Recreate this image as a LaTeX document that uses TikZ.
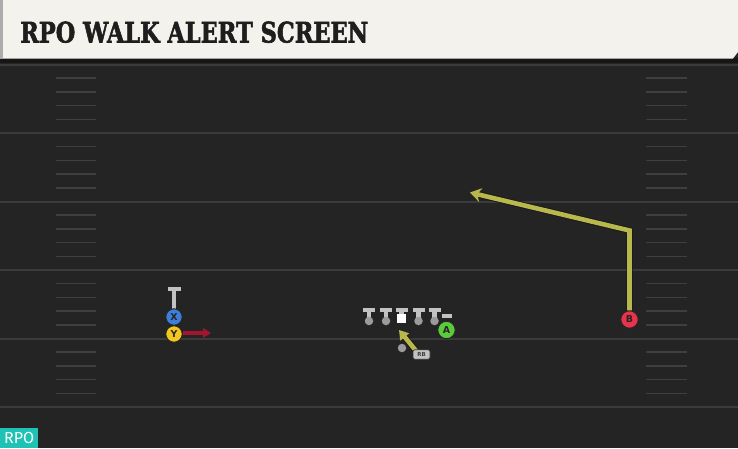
\documentclass[tikz,border=0pt]{standalone}
\usepackage{fontspec}
\usetikzlibrary{arrows.meta}
\newfontfamily\titlefont[FakeBold=2.2]{DejaVu Serif}
\newfontfamily\markfont{DejaVu Sans}
\newfontfamily\tagfont{Fira Sans}
\definecolor{fieldbg}{HTML}{242424}
\definecolor{fieldline}{HTML}{3B3B3B}
\definecolor{hashline}{HTML}{3F3F3F}
\definecolor{banner}{HTML}{F4F2EC}
\definecolor{bannerdark}{HTML}{161616}
\definecolor{titleink}{HTML}{1E1E1E}
\definecolor{tagteal}{HTML}{1FC3B6}
\definecolor{routeyel}{HTML}{B8B84D}
\definecolor{motionred}{HTML}{A3152E}
\definecolor{blockgray}{HTML}{C2C2C2}
\definecolor{xblue}{HTML}{3B7FDB}
\definecolor{yyellow}{HTML}{F3C71F}
\definecolor{agreen}{HTML}{5BCB3B}
\definecolor{bred}{HTML}{E8344A}

\begin{document}
\begin{tikzpicture}[x=1pt,y=-1pt,
  player/.style={circle,draw=black!85,line width=1pt,minimum size=16.5pt,inner sep=0pt,
    font=\markfont\bfseries\fontsize{9.5}{9.5}\selectfont,text=black!85},
  lineman/.style={circle,fill=blockgray!80!black,minimum size=8.5pt,inner sep=0pt},
  blockstem/.style={blockgray,line width=4.5pt},
  blockbar/.style={blockgray,line width=4pt},
  route/.style={routeyel,line width=4.6pt,line join=miter,
    preaction={draw=black!90,line width=6.4pt,arrows=-,shorten >=8pt}},
  motion/.style={motionred,line width=3.8pt},
  rbtag/.style={draw=black!80,fill=blockgray,rounded corners=2pt,line width=0.7pt,
    minimum width=17pt,minimum height=9.5pt,inner sep=0pt,
    font=\markfont\bfseries\fontsize{5.5}{5.5}\selectfont,text=black!75}
]
\useasboundingbox (0,0) rectangle (738,448);

%Field
\fill[fieldbg] (0,0) rectangle (738,448);
%Yard lines
\foreach \yy in {64.5,133,201.5,270,338.5,407}
  \draw[fieldline,line width=2pt] (0,\yy) -- (738,\yy);
%Hash marks
\foreach \yy in {64.5,133,201.5,270,338.5}
  \foreach \k in {1,...,4} {
    \draw[hashline,line width=1.5pt] (56,\yy+13.7*\k) -- (96,\yy+13.7*\k);
    \draw[hashline,line width=1.5pt] (646,\yy+13.7*\k) -- (687,\yy+13.7*\k);
  }

%Banner
\fill[bannerdark] (0,58) rectangle (738,63);
\fill[banner] (3,0) -- (738,0) -- (738,52) -- (733,58.5) -- (3,58.5) -- cycle;
\fill[gray!65] (0,0) rectangle (3,58.5);
% Text Node
\node[anchor=west,inner sep=0pt,text=titleink] (title) at (20,32.2)
  {\resizebox{348pt}{21pt}{\titlefont\bfseries RPO WALK ALERT SCREEN}};

%X and Y
\draw[blockstem] (174,290) -- (174,310);
\draw[blockbar] (167.5,289) -- (180.5,289);
\node[player,fill=xblue] (X) at (174,317) {X};
\node[player,fill=yyellow] (Y) at (174,334) {Y};
\coordinate (Ymotion) at (211,333);
\draw[motion,-{Triangle[length=8pt,width=9.5pt]}] (Y.east |- Ymotion) -- (Ymotion);

%Line
\foreach \xx/\nm in {369/lt,386/lg,418.5/rg,434.5/rt} {
  \draw[blockstem] (\xx,311) -- (\xx,318);
  \draw[blockbar] (\xx-6,309.5) -- (\xx+6,309.5);
  \node[lineman] (\nm) at (\xx,321) {};
}
\draw[blockstem] (401.5,311) -- (401.5,315);
\draw[blockbar] (395.5,309.5) -- (407.5,309.5);
\node[fill=white,minimum width=8.5pt,minimum height=9.5pt,inner sep=0pt] (C) at (401.5,318.7) {};

%A
\draw[blockbar] (442,316) -- (452,316);
\node[player,fill=agreen,minimum size=17.5pt] (A) at (446.5,330) {A};

%RB
\node[lineman] (RB) at (402,348) {};
\coordinate (rbstart) at (417,352);
\coordinate (rbaim) at (399,330);
\draw[route,-{Triangle[length=9pt,width=11pt]}] (rbstart) -- (rbaim);
\node[rbtag] (RBtag) at (421.5,354.5) {RB};

%B
\node[player,fill=bred,minimum size=17.5pt] (B) at (629.5,319.5) {B};
\coordinate (Bbreak) at (629.5,230.5);
\coordinate (Bend) at (470,192.5);
\draw[route,-{Stealth[length=11pt,width=14pt]}] (B) -- (Bbreak) -- (Bend);

% Text Node
\node[fill=tagteal,text=white,font=\tagfont\fontsize{16}{16}\selectfont,
  minimum width=38pt,minimum height=20pt,inner sep=0pt,anchor=south west] (rpotag) at (0,448) {RPO};

\end{tikzpicture}
\end{document}
